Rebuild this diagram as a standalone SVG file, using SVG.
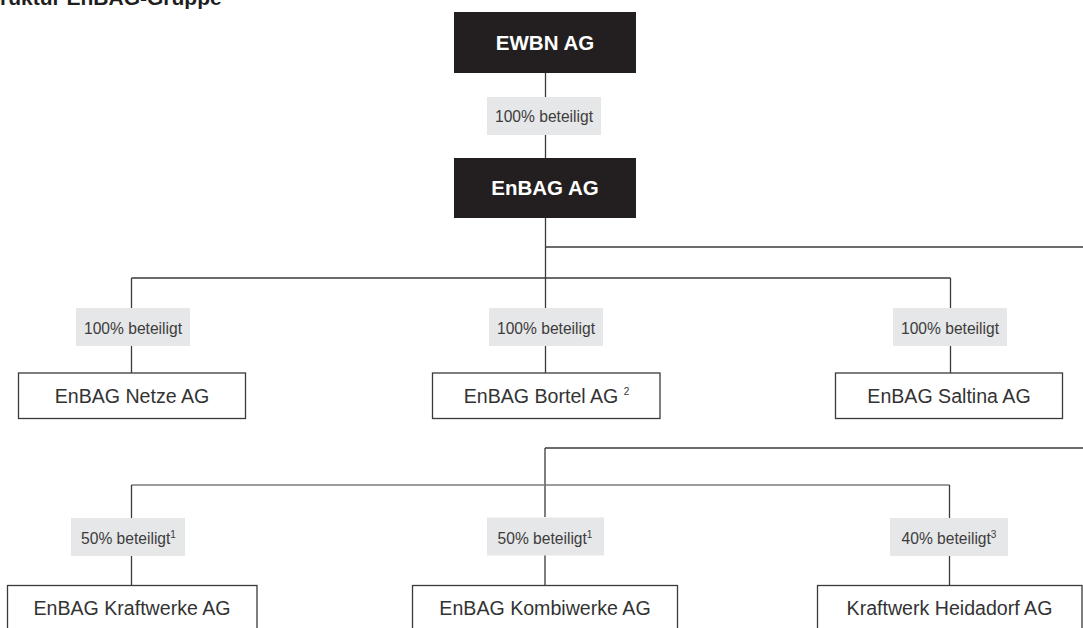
<svg xmlns="http://www.w3.org/2000/svg" width="1083" height="628" viewBox="0 0 1083 628">
  <style>
    .title { font-family: "Liberation Sans", Arial, sans-serif; font-weight: bold; font-size: 21px; fill: #1e1e1e; }
    .dark rect { fill: #231f20; }
    .dark text { font-family: "Liberation Sans", Arial, sans-serif; font-weight: bold; font-size: 20.5px; fill: #ffffff; text-anchor: middle; }
    .node rect { fill: #ffffff; stroke: #3a3a3a; stroke-width: 1.3; }
    .node text { font-family: "Liberation Sans", Arial, sans-serif; font-size: 19.6px; fill: #333333; text-anchor: middle; }
    .label rect { fill: #e6e7e8; }
    .label text { font-family: "Liberation Sans", Arial, sans-serif; font-size: 15.6px; fill: #3c3c3c; text-anchor: middle; }
    .sup { font-size: 10px; }
    .conn line { stroke: #3a3a3a; stroke-width: 1.3; fill: none; }
    .conn line.light { stroke: #7a7a7a; }
  </style>
  <rect x="0" y="0" width="1083" height="628" fill="#ffffff"/>
  <text class="title" x="-21" y="5">Struktur EnBAG-Gruppe</text>

  <g id="connectors" class="conn">
    <line x1="545.5" y1="73" x2="545.5" y2="97"/>
    <line x1="545.5" y1="135" x2="545.5" y2="158"/>
    <line x1="545.5" y1="218" x2="545.5" y2="308"/>
    <line x1="545.5" y1="247" x2="1083" y2="247"/>
    <line x1="131.5" y1="278" x2="950.5" y2="278"/>
    <line x1="131.5" y1="278" x2="131.5" y2="308"/>
    <line x1="131.5" y1="346" x2="131.5" y2="373"/>
    <line x1="545.5" y1="346" x2="545.5" y2="373"/>
    <line x1="950.5" y1="278" x2="950.5" y2="308"/>
    <line x1="950.5" y1="346" x2="950.5" y2="373"/>
    <line x1="545" y1="448" x2="1083" y2="448"/>
    <line x1="545" y1="448" x2="545" y2="517"/>
    <line class="light" x1="131.5" y1="485" x2="949.5" y2="485"/>
    <line x1="131.5" y1="485" x2="131.5" y2="518"/>
    <line x1="131.5" y1="556" x2="131.5" y2="585"/>
    <line x1="545" y1="555" x2="545" y2="585"/>
    <line x1="949.5" y1="485" x2="949.5" y2="518"/>
    <line x1="949.5" y1="555" x2="949.5" y2="585"/>
  </g>

  <g id="ewbn" class="dark">
    <rect x="454" y="12" width="182" height="61"/>
    <text x="545" y="50">EWBN AG</text>
  </g>
  <g id="label-ewbn-enbag" class="label">
    <rect x="487" y="97" width="114" height="38"/>
    <text x="544" y="122">100% beteiligt</text>
  </g>
  <g id="enbag" class="dark">
    <rect x="454" y="158" width="182" height="60"/>
    <text x="545" y="195">EnBAG AG</text>
  </g>

  <g id="label-netze" class="label">
    <rect x="76" y="308" width="114" height="38"/>
    <text x="133" y="334">100% beteiligt</text>
  </g>
  <g id="netze" class="node">
    <rect x="18.5" y="373" width="227" height="45.5"/>
    <text x="132" y="403.3">EnBAG Netze AG</text>
  </g>

  <g id="label-bortel" class="label">
    <rect x="489" y="308" width="114" height="38"/>
    <text x="546" y="334">100% beteiligt</text>
  </g>
  <g id="bortel" class="node">
    <rect x="432.5" y="373" width="227.5" height="45.5"/>
    <text x="546.5" y="403.3">EnBAG Bortel AG <tspan class="sup" dy="-8">2</tspan></text>
  </g>

  <g id="label-saltina" class="label">
    <rect x="893" y="308" width="114" height="38"/>
    <text x="950" y="334">100% beteiligt</text>
  </g>
  <g id="saltina" class="node">
    <rect x="835.5" y="373" width="227" height="45.5"/>
    <text x="949" y="403.3">EnBAG Saltina AG</text>
  </g>

  <g id="label-kraftwerke" class="label">
    <rect x="71" y="518" width="114" height="38"/>
    <text x="128.5" y="543.5">50% beteiligt<tspan class="sup" dy="-6">1</tspan></text>
  </g>
  <g id="kraftwerke" class="node">
    <rect x="7.5" y="585.5" width="249.5" height="60"/>
    <text x="132" y="615">EnBAG Kraftwerke AG</text>
  </g>

  <g id="label-kombiwerke" class="label">
    <rect x="487" y="517.5" width="117" height="38"/>
    <text x="545" y="543.5">50% beteiligt<tspan class="sup" dy="-6">1</tspan></text>
  </g>
  <g id="kombiwerke" class="node">
    <rect x="412.5" y="585.5" width="265" height="60"/>
    <text x="545" y="615">EnBAG Kombiwerke AG</text>
  </g>

  <g id="label-heidadorf" class="label">
    <rect x="890" y="518" width="118" height="38"/>
    <text x="949" y="543.5">40% beteiligt<tspan class="sup" dy="-6">3</tspan></text>
  </g>
  <g id="heidadorf" class="node">
    <rect x="817.5" y="585.5" width="264.5" height="60"/>
    <text x="949.5" y="615">Kraftwerk Heidadorf AG</text>
  </g>
</svg>
